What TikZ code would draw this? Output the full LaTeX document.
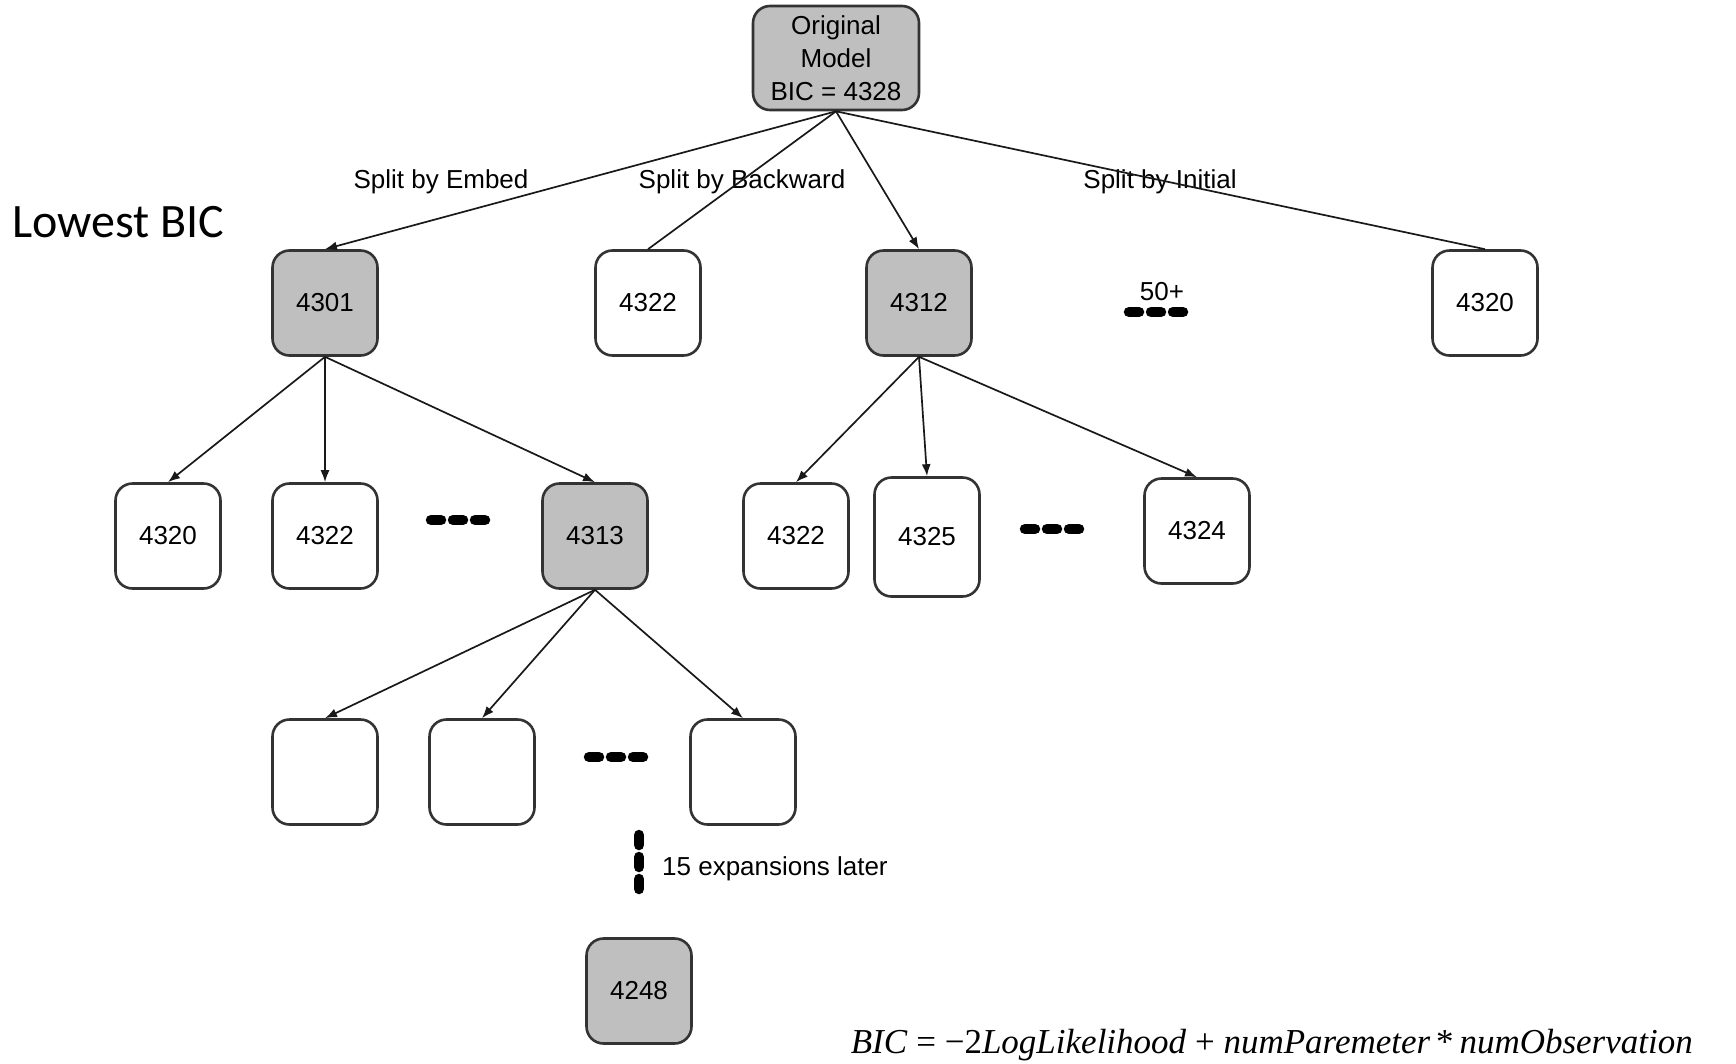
\documentclass[tikz,border=0pt]{standalone}
\usepackage{fontspec}
\setmainfont{Liberation Sans}
\newfontfamily\calibrifont{Carlito}
\newfontfamily\timesfont{Liberation Serif}
\usetikzlibrary{arrows.meta}

\begin{document}
\begin{tikzpicture}[x=1pt,y=-1pt,
  box/.style={draw=black!80, line width=2.6pt, rounded corners=17pt,
    minimum width=105pt, minimum height=105pt, inner sep=0pt,
    font=\fontsize{26}{33}\selectfont, fill=white},
  chosen/.style={box, fill=black!25},
  link/.style={line width=1.7pt, black!90},
  arr/.style={link, -{Latex[length=12pt,width=9pt]}},
  lbl/.style={font=\fontsize{26}{30}\selectfont, inner sep=0pt},
  hdots/.pic={\foreach \i in {-1,0,1}
    \draw[line width=10.5pt, line cap=round] (\i*22-5,0) -- (\i*22+5,0);},
]
\useasboundingbox (0,0) rectangle (1736,1063);

% root
\node[chosen, minimum width=166pt, minimum height=104pt, align=center]
  (root) at (836,58) {Original\\Model\\BIC = 4328};

% first split
\node[chosen] (a1) at (325,303) {4301};
\node[box]    (a2) at (648,303) {4322};
\node[chosen] (a3) at (919,303) {4312};
\node[box]    (a5) at (1485,303) {4320};
\node[lbl] (more) at (1162,292) {50+};
\pic at (1156,312) {hdots};

\node[lbl] (e1) at (441,182) {Split by Embed};
\node[lbl] (e2) at (742,182) {Split by Backward};
\node[lbl] (e3) at (1160,182) {Split by Initial};

\node[anchor=west, inner sep=0pt, font=\calibrifont\fontsize{48}{52}\selectfont]
  (lowest) at (12,222) {Lowest BIC};

% second level
\node[box]    (b1) at (168,536) {4320};
\node[box]    (b2) at (325,536) {4322};
\pic at (458,520) {hdots};
\node[chosen] (b4) at (595,536) {4313};
\node[box]    (b5) at (796,536) {4322};
\node[box, minimum height=119pt] (b6) at (927,537) {4325};
\pic at (1052,529) {hdots};
\node[box]    (b8) at (1197,531) {4324};

% third level
\node[box] (c1) at (325,772) {};
\node[box] (c2) at (482,772) {};
\pic at (616,757) {hdots};
\node[box] (c4) at (743,772) {};

% later expansions
\pic[rotate=90] at (639,862) {hdots};
\node[lbl, anchor=west] (later) at (662,869) {15 expansions later};
\node[chosen] (d1) at (639,991) {4248};

% connectors
\draw[arr]  (root.south) -- (a1.north);
\draw[link] (root.south) -- (a2.north);
\draw[arr]  (root.south) -- (a3.north);
\draw[link] (root.south) -- (a5.north);

\draw[arr] (a1.south) -- (b1.north);
\draw[arr] (a1.south) -- (b2.north);
\draw[arr] (a1.south) -- (b4.north);

\draw[arr] (a3.south) -- (b5.north);
\draw[arr] (a3.south) -- (b6.north);
\draw[arr] (a3.south) -- (b8.north);

\draw[arr] (b4.south) -- (c1.north);
\draw[arr] (b4.south) -- (c2.north);
\draw[arr] (b4.south) -- (c4.north);

% formula
\node[anchor=east, inner sep=0pt, font=\timesfont\fontsize{35}{38}\selectfont]
  (formula) at (1693,1045)
  {\textit{BIC} = −2\textit{LogLikelihood} + \textit{numParemeter}\,*\,\textit{numObservation}};
\end{tikzpicture}
\end{document}
